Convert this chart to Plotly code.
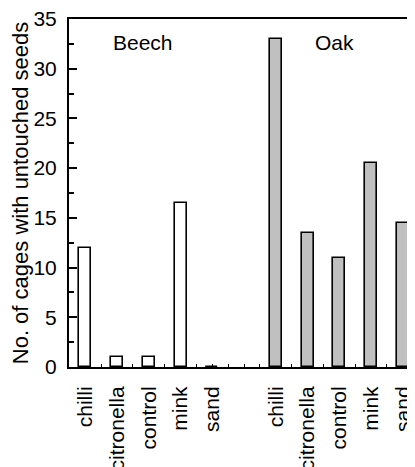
import plotly.graph_objects as go

treatments = ["chilli", "citronella", "control", "mink", "sand"]
beech_values = [12, 1, 1, 16.5, 0]
oak_values = [33, 13.5, 11, 20.5, 14.5]
y_ticks = [0, 5, 10, 15, 20, 25, 30, 35]

FONT = "Liberation Sans, Arial, sans-serif"

n = len(treatments)
beech_x = list(range(n))
oak_x = [i + n + 1 for i in range(n)]

# small x ticks every half slot, hidden where a bar stands on them
bar_pos = {x for x, v in zip(beech_x + oak_x, beech_values + oak_values) if v > 0}
x_minor = [k / 2 for k in range(0, 2 * (oak_x[-1]) + 1) if (k / 2) not in bar_pos]

# the page body has an 8px default margin; compensate
OFF = 8
fig = go.Figure()
fig.add_trace(go.Bar(x=beech_x, y=beech_values, width=0.38,
                     marker=dict(color="white", line=dict(color="black", width=1.6)),
                     showlegend=False))
fig.add_trace(go.Bar(x=oak_x, y=oak_values, width=0.38,
                     marker=dict(color="#c0c0c0", line=dict(color="black", width=1.6)),
                     showlegend=False))

fig.add_annotation(x=1.82, y=32.6, xref="x", yref="y", text="Beech", showarrow=False,
                   font=dict(family=FONT, size=21, color="black"))
fig.add_annotation(x=7.86, y=32.6, xref="x", yref="y", text="Oak", showarrow=False,
                   font=dict(family=FONT, size=21, color="black"))

fig.update_layout(
    width=415 - OFF, height=467 - OFF,
    margin=dict(l=69 - OFF, r=0, t=19 - OFF, b=100, autoexpand=False),
    plot_bgcolor="white", paper_bgcolor="white",
    font=dict(family=FONT, size=20, color="black"),
    bargap=0,
)
fig.update_xaxes(
    range=[-0.513, 10.384], automargin=False, ticklabeloverflow="allow",
    tickmode="array", tickvals=beech_x + oak_x, ticktext=treatments + treatments,
    tickangle=-90, ticks="", tickfont=dict(family=FONT, size=21),
    minor=dict(tickmode="array", tickvals=x_minor, ticks="inside", ticklen=3,
               tickwidth=1.2, tickcolor="black"),
    showline=True, linecolor="black", linewidth=2, mirror=True,
    showgrid=False, zeroline=False, ticklabelstandoff=9,
)
fig.update_yaxes(
    range=[0, 35], tickmode="array", tickvals=y_ticks, automargin=False,
    ticklabeloverflow="allow",
    ticks="inside", ticklen=8, tickwidth=1.5, tickcolor="black",
    minor=dict(tickmode="linear", tick0=2.5, dtick=5, ticks="inside", ticklen=5,
               tickwidth=1.5, tickcolor="black"),
    tickfont=dict(family=FONT, size=21),
    showline=True, linecolor="black", linewidth=2,
    showgrid=False, zeroline=False, ticklabelstandoff=6,
    title=dict(text="No. of cages with untouched seeds", standoff=13,
               font=dict(family=FONT, size=22)),
)

fig.write_html("out.html")
